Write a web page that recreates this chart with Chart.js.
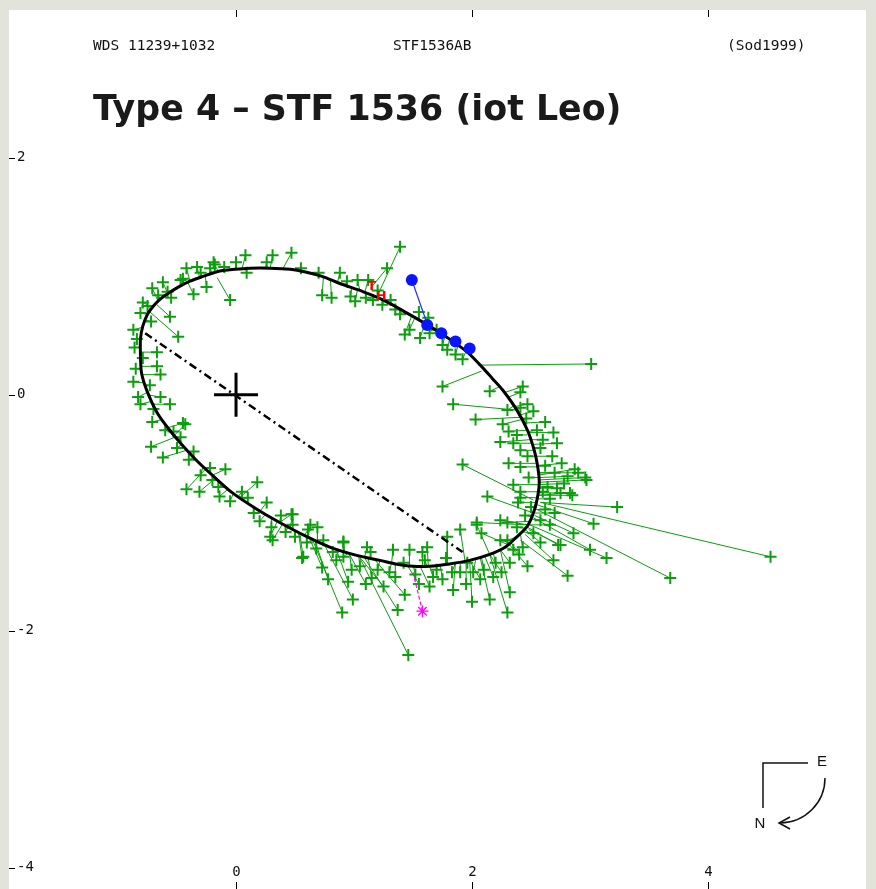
<!DOCTYPE html>
<html>
<head>
<meta charset="utf-8">
<script src="https://cdn.jsdelivr.net/npm/chart.js@4.4.1/dist/chart.umd.min.js"></script>
<style>
  html, body { margin: 0; padding: 0; background: #e2e3db; }
  #orbit { display: block; }
</style>
</head>
<body>
<canvas id="orbit" width="876" height="889"></canvas>
<script>
// axis ticks (arcsec)
const xTicks = [0, 2, 4];
const yTicks = [2, 0, -2, -4];

// apparent orbit
const orbitPath = [
  [-0.81, 0.32], [-0.81, 0.47], [-0.79, 0.58], [-0.75, 0.68], [-0.70, 0.75], [-0.64, 0.81],
  [-0.57, 0.86], [-0.49, 0.91], [-0.39, 0.96], [-0.28, 1.00], [-0.16, 1.04], [-0.01, 1.06],
  [0.12, 1.07], [0.29, 1.07], [0.46, 1.06], [0.58, 1.04], [0.73, 1.00], [0.88, 0.94],
  [1.08, 0.87], [1.25, 0.80], [1.45, 0.69], [1.64, 0.58], [1.81, 0.47], [1.96, 0.36],
  [2.07, 0.25], [2.17, 0.14], [2.26, 0.04], [2.38, -0.13], [2.47, -0.30], [2.53, -0.48],
  [2.56, -0.63], [2.57, -0.74], [2.56, -0.84], [2.53, -0.97], [2.47, -1.11], [2.37, -1.21],
  [2.28, -1.29], [2.15, -1.35], [1.98, -1.40], [1.81, -1.43], [1.64, -1.45], [1.50, -1.45],
  [1.35, -1.43], [1.22, -1.40], [1.03, -1.36], [0.80, -1.29], [0.60, -1.20], [0.37, -1.08],
  [0.18, -0.97], [-0.03, -0.83], [-0.19, -0.69], [-0.33, -0.56], [-0.46, -0.42], [-0.57, -0.29],
  [-0.67, -0.15], [-0.75, 0.02], [-0.80, 0.18], [-0.81, 0.32]
];

// line of nodes
const nodesX = [-0.77, 1.92];
const nodesY = [0.52, -1.33];

// primary star
const primary = [0, 0];

// micrometer measures: [x, y, predicted x, predicted y]
const greenMeasures = [
  [0.47, 1.20, 0.40, 1.07], [0.31, 1.18, 0.29, 1.07], [0.26, 1.12, 0.25, 1.07], [0.08, 1.18, 0.05, 1.06],
  [-0.18, 1.10, -0.15, 1.04], [-0.22, 1.07, -0.20, 1.02], [-0.19, 1.12, -0.18, 1.04], [-0.33, 1.08, -0.31, 0.99],
  [-0.42, 1.07, -0.39, 0.96], [-0.47, 0.97, -0.46, 0.93], [-0.62, 0.95, -0.58, 0.86], [-0.71, 0.90, -0.66, 0.79],
  [-0.58, 0.87, -0.56, 0.88], [-0.36, 0.85, -0.41, 0.95], [-0.25, 0.91, -0.26, 1.00], [-0.05, 0.80, -0.16, 0.99],
  [0.09, 1.03, 0.08, 1.07], [-0.79, 0.78, -0.71, 0.74], [-0.81, 0.69, -0.75, 0.68], [-0.56, 0.66, -0.67, 0.76],
  [-0.49, 0.49, -0.73, 0.70], [-0.87, 0.55, -0.79, 0.57], [-0.84, 0.47, -0.81, 0.47], [-0.67, 0.36, -0.81, 0.36],
  [-0.79, 0.31, -0.81, 0.31], [-0.67, 0.24, -0.81, 0.24], [-0.87, 0.11, -0.79, 0.10], [-0.64, 0.17, -0.80, 0.17],
  [-0.73, 0.08, -0.78, 0.07], [-0.81, -0.08, -0.73, -0.06], [-0.64, -0.02, -0.75, 0.00], [-0.56, -0.08, -0.71, -0.08],
  [-0.71, -0.23, -0.63, -0.21], [-0.45, -0.24, -0.58, -0.28], [-0.53, -0.31, -0.56, -0.32], [-0.43, -0.25, -0.53, -0.35],
  [-0.47, -0.36, -0.49, -0.39], [-0.36, -0.48, -0.41, -0.49], [-0.72, -0.44, -0.52, -0.36], [-0.62, -0.53, -0.42, -0.47],
  [-0.42, -0.80, -0.26, -0.63], [-0.31, -0.82, -0.18, -0.71], [-0.22, -0.62, -0.26, -0.63], [-0.09, -0.63, -0.20, -0.68],
  [-0.14, -0.86, -0.07, -0.80], [-0.15, -0.78, -0.12, -0.76], [0.18, -0.74, 0.03, -0.87], [0.10, -0.87, 0.05, -0.89],
  [0.26, -0.91, 0.20, -0.99], [0.20, -1.07, 0.25, -1.01], [0.29, -1.20, 0.35, -1.07], [0.31, -1.23, 0.39, -1.10],
  [0.48, -1.01, 0.46, -1.12], [0.61, -1.14, 0.58, -1.19], [0.60, -1.25, 0.64, -1.23], [0.74, -1.23, 0.73, -1.26],
  [0.82, -1.33, 0.82, -1.29], [0.91, -1.24, 0.92, -1.32], [0.57, -1.37, 0.54, -1.18], [1.11, -1.29, 1.09, -1.37],
  [1.33, -1.31, 1.32, -1.41], [1.47, -1.31, 1.47, -1.44], [1.62, -1.29, 1.63, -1.45], [1.79, -1.20, 1.79, -1.43],
  [2.04, -1.10, 2.15, -1.35], [0.47, -1.01, 0.37, -1.08], [0.48, -1.10, 0.42, -1.11], [0.42, -1.16, 0.44, -1.12],
  [0.63, -1.10, 0.61, -1.21], [0.69, -1.12, 0.69, -1.24], [0.56, -1.38, 0.53, -1.17], [0.73, -1.46, 0.63, -1.23],
  [0.78, -1.56, 0.67, -1.24], [0.90, -1.84, 0.65, -1.23], [0.99, -1.73, 0.75, -1.27], [0.91, -1.25, 0.91, -1.32],
  [0.91, -1.37, 0.95, -1.34], [1.14, -1.33, 1.14, -1.38], [1.25, -1.62, 1.03, -1.35], [1.37, -1.82, 1.09, -1.38],
  [1.46, -2.20, 1.05, -1.38], [1.43, -1.69, 1.18, -1.40], [1.58, -1.33, 1.58, -1.45], [1.35, -1.54, 1.35, -1.42],
  [1.67, -1.54, 1.64, -1.45], [1.75, -1.56, 1.73, -1.44], [1.84, -1.65, 1.86, -1.42], [1.64, -1.62, 1.56, -1.45],
  [2.00, -1.75, 1.98, -1.40], [2.15, -1.73, 2.07, -1.38], [2.30, -1.84, 2.15, -1.35], [2.32, -1.67, 2.24, -1.31],
  [2.07, -1.56, 1.98, -1.40], [2.18, -1.54, 2.11, -1.37], [1.90, -1.14, 1.94, -1.40], [2.24, -1.06, 2.47, -1.10],
  [2.35, -0.76, 2.57, -0.76], [2.41, -0.87, 2.56, -0.87], [2.24, -1.23, 2.32, -1.25], [2.35, -1.31, 2.28, -1.29],
  [2.32, -1.42, 2.24, -1.31], [1.96, -1.42, 1.97, -1.40], [2.01, -1.50, 2.03, -1.40], [1.83, -1.50, 1.86, -1.42],
  [3.01, 0.26, 2.05, 0.25], [1.75, 0.07, 2.08, 0.20], [2.15, 0.03, 2.24, 0.07], [2.43, 0.07, 2.28, 0.02],
  [2.41, 0.02, 2.31, -0.02], [1.84, -0.08, 2.38, -0.13], [2.30, -0.13, 2.36, -0.09], [2.41, -0.11, 2.38, -0.13],
  [2.47, -0.08, 2.36, -0.10], [2.03, -0.21, 2.42, -0.19], [2.52, -0.14, 2.41, -0.17], [2.62, -0.23, 2.44, -0.24],
  [2.26, -0.25, 2.42, -0.21], [2.31, -0.31, 2.47, -0.30], [2.69, -0.32, 2.47, -0.32], [2.38, -0.34, 2.47, -0.34],
  [2.24, -0.40, 2.49, -0.38], [2.35, -0.41, 2.50, -0.41], [2.60, -0.38, 2.50, -0.38], [2.72, -0.41, 2.51, -0.42],
  [2.41, -0.47, 2.53, -0.47], [2.68, -0.52, 2.53, -0.52], [2.31, -0.58, 2.54, -0.58], [2.41, -0.61, 2.55, -0.61],
  [1.92, -0.59, 2.52, -0.89], [2.87, -0.63, 2.56, -0.68], [2.81, -0.69, 2.57, -0.70], [2.96, -0.70, 2.57, -0.72],
  [2.64, -0.78, 2.57, -0.78], [2.72, -0.79, 2.57, -0.79], [2.41, -0.82, 2.57, -0.82], [2.13, -0.86, 2.52, -1.00],
  [2.75, -0.83, 2.56, -0.83], [2.85, -0.85, 2.56, -0.85], [2.39, -0.91, 2.55, -0.91], [3.23, -0.95, 2.58, -0.91],
  [2.04, -1.08, 2.47, -1.10], [2.30, -1.08, 2.49, -1.07], [2.30, -1.23, 2.36, -1.21], [2.43, -1.29, 2.41, -1.18],
  [2.58, -1.25, 2.45, -1.14], [2.73, -1.27, 2.47, -1.12], [2.86, -1.17, 2.53, -1.02], [3.00, -1.31, 2.52, -1.04],
  [2.08, -1.17, 2.31, -1.27], [2.97, -0.72, 2.57, -0.74], [2.83, -0.83, 2.56, -0.85], [3.03, -1.09, 2.55, -0.93],
  [4.53, -1.37, 2.58, -0.91], [3.68, -1.55, 2.55, -0.97], [3.14, -1.38, 2.49, -1.10], [2.75, -1.27, 2.48, -1.14],
  [2.69, -1.40, 2.45, -1.18], [2.81, -1.53, 2.41, -1.23], [2.47, -1.45, 2.32, -1.27], [1.39, 1.25, 1.20, 0.84],
  [1.28, 1.07, 1.14, 0.90], [1.03, 0.97, 1.05, 0.88], [1.12, 0.97, 1.09, 0.86], [0.97, 0.83, 0.98, 0.90],
  [1.01, 0.79, 1.03, 0.89], [1.16, 0.80, 1.18, 0.83], [1.24, 0.76, 1.26, 0.79], [1.31, 0.80, 1.31, 0.77],
  [1.39, 0.68, 1.42, 0.71], [1.47, 0.55, 1.52, 0.66], [1.43, 0.51, 1.49, 0.67], [1.56, 0.48, 1.60, 0.60],
  [1.63, 0.65, 1.63, 0.58], [1.64, 0.52, 1.67, 0.56], [1.75, 0.42, 1.77, 0.49], [1.86, 0.34, 1.88, 0.41],
  [1.79, 0.38, 1.81, 0.47], [0.88, 1.03, 0.86, 0.95], [0.94, 0.96, 0.92, 0.92], [0.55, 1.07, 0.54, 1.05],
  [0.70, 1.03, 0.69, 1.01], [0.81, 0.82, 0.80, 0.97], [0.73, 0.84, 0.74, 0.99],
  [2.46, -0.20, 2.43, -0.22], [2.55, -0.30, 2.48, -0.31], [2.58, -0.45, 2.52, -0.45], [2.47, -0.52, 2.53, -0.52],
  [2.62, -0.60, 2.55, -0.60], [2.70, -0.66, 2.56, -0.66], [2.48, -0.70, 2.57, -0.70], [2.78, -0.75, 2.57, -0.76],
  [2.66, -0.88, 2.56, -0.88], [2.50, -0.95, 2.54, -0.95], [2.62, -0.97, 2.53, -0.97], [2.70, -1.00, 2.52, -1.00],
  [2.45, -1.02, 2.51, -1.03], [2.58, -1.06, 2.50, -1.05], [2.66, -1.10, 2.48, -1.10], [2.38, -1.12, 2.46, -1.13],
  [2.52, -1.17, 2.43, -1.16], [2.60, -0.82, 2.56, -0.82], [2.90, -0.66, 2.56, -0.66], [2.76, -0.58, 2.55, -0.60],
  [1.20, -1.48, 1.22, -1.40], [1.30, -1.50, 1.32, -1.41], [1.52, -1.52, 1.50, -1.44], [1.60, -1.40, 1.62, -1.45],
  [1.70, -1.48, 1.70, -1.44], [1.90, -1.50, 1.90, -1.42], [1.95, -1.60, 1.95, -1.41], [2.10, -1.48, 2.08, -1.37],
  [2.20, -1.42, 2.18, -1.34], [1.05, -1.45, 1.04, -1.36], [0.98, -1.48, 0.96, -1.33], [0.85, -1.40, 0.86, -1.31],
  [1.15, -1.55, 1.12, -1.38], [1.42, -1.42, 1.42, -1.43], [1.78, -1.38, 1.78, -1.43], [2.25, -1.50, 2.15, -1.35],
  [2.40, -1.35, 2.33, -1.25], [1.55, -1.60, 1.45, -1.44], [0.95, -1.58, 0.85, -1.31], [1.10, -1.60, 0.95, -1.33],
  [-0.60, -0.30, -0.57, -0.29], [-0.50, -0.45, -0.46, -0.42], [-0.40, -0.55, -0.36, -0.53], [-0.30, -0.68, -0.28, -0.61],
  [-0.20, -0.72, -0.19, -0.69], [-0.05, -0.90, -0.02, -0.83], [0.05, -0.82, 0.02, -0.86], [0.15, -1.00, 0.15, -0.95],
  [0.30, -1.12, 0.30, -1.05], [0.38, -1.02, 0.37, -1.08], [0.50, -1.20, 0.50, -1.15], [0.68, -1.30, 0.68, -1.24],
  [-0.75, 0.75, -0.72, 0.72], [-0.66, 0.84, -0.64, 0.81], [-0.55, 0.82, -0.55, 0.87], [-0.45, 0.98, -0.44, 0.94],
  [-0.30, 1.03, -0.29, 1.00], [-0.10, 1.08, -0.10, 1.05], [0.00, 1.12, 0.00, 1.06], [-0.72, 0.62, -0.77, 0.63],
  [-0.86, 0.40, -0.81, 0.40], [-0.85, 0.22, -0.80, 0.22], [-0.83, -0.02, -0.75, 0.02], [-0.70, -0.12, -0.68, -0.14],
  [1.10, 0.82, 1.10, 0.86], [1.20, 0.88, 1.20, 0.82], [1.35, 0.72, 1.36, 0.74], [1.55, 0.70, 1.55, 0.63],
  [1.70, 0.55, 1.70, 0.55], [1.92, 0.30, 1.95, 0.37]
];

// interferometric measures: [x, y, predicted x, predicted y]
const blueMeasures = [
  [1.49, 0.97, 1.62, 0.60], [1.62, 0.59, 1.63, 0.58], [1.74, 0.52, 1.75, 0.51],
  [1.86, 0.45, 1.87, 0.44], [1.98, 0.39, 1.98, 0.37]
];

// Hipparcos measure
const magentaMeasures = [[1.58, -1.83, 1.50, -1.50]];

// red flags near the orbit
const redMarks = [[1.15, 0.91, "T"], [1.23, 0.83, "H"]];

const GREEN = "#0c9e0c";

function residualLines(rows) {
  const pts = [];
  rows.forEach((r) => {
    pts.push({ x: r[0], y: r[1] }, { x: r[2], y: r[3] }, { x: null, y: null });
  });
  return pts;
}

function markers(rows) {
  return rows.map((r) => ({ x: r[0], y: r[1] }));
}

const framePlugin = {
  id: "frame",
  beforeDraw(chart) {
    const { ctx, chartArea: a } = chart;
    ctx.save();
    ctx.fillStyle = "#e2e3db";
    ctx.fillRect(0, 0, chart.width, chart.height);
    ctx.fillStyle = "#ffffff";
    ctx.fillRect(a.left, a.top, a.right - a.left, a.bottom - a.top);
    ctx.restore();
  },
  afterDatasetsDraw(chart) {
    const { ctx, scales } = chart;
    ctx.save();
    ctx.fillStyle = "#ff0000";
    ctx.font = 'bold 13px "DejaVu Sans"';
    ctx.textAlign = "center";
    ctx.textBaseline = "middle";
    redMarks.forEach((m) => {
      ctx.fillText(m[2], scales.x.getPixelForValue(m[0]), scales.y.getPixelForValue(m[1]));
    });
    ctx.restore();
  },
  afterDraw(chart) {
    const { ctx, chartArea: a, scales } = chart;
    ctx.save();
    ctx.strokeStyle = "#000";
    ctx.fillStyle = "#111";
    ctx.lineWidth = 1;

    // ticks and labels
    ctx.font = '14px "DejaVu Sans Mono"';
    xTicks.forEach((v) => {
      const px = Math.round(scales.x.getPixelForValue(v)) + 0.5;
      ctx.beginPath();
      ctx.moveTo(px, a.top);
      ctx.lineTo(px, a.top + 7);
      ctx.moveTo(px, a.bottom - 7);
      ctx.lineTo(px, a.bottom);
      ctx.stroke();
      ctx.textAlign = "center";
      ctx.textBaseline = "alphabetic";
      ctx.fillText(String(v), px, a.bottom - 13);
    });
    yTicks.forEach((v) => {
      const py = Math.round(scales.y.getPixelForValue(v)) + 0.5;
      ctx.beginPath();
      ctx.moveTo(a.left, py);
      ctx.lineTo(a.left + 6, py);
      ctx.stroke();
      ctx.textAlign = "left";
      ctx.textBaseline = "middle";
      ctx.fillText(String(v), a.left + 8, py - 1);
    });

    // header line
    ctx.font = '14.5px "DejaVu Sans Mono"';
    ctx.textBaseline = "alphabetic";
    ctx.textAlign = "left";
    ctx.fillText("WDS 11239+1032", 93, 50);
    ctx.fillText("STF1536AB", 393, 50);
    ctx.fillText("(Sod1999)", 727, 50);

    // title, sized to span the same width as the original
    const title = "Type 4 \u2013 STF 1536 (iot Leo)";
    ctx.font = 'bold 30px "DejaVu Sans"';
    const w = ctx.measureText(title).width;
    const size = 30 * 529 / w;
    ctx.font = `bold ${size.toFixed(1)}px "DejaVu Sans"`;
    ctx.fillStyle = "#1a1a1a";
    ctx.fillText(title, 93, 120);

    // orientation marker
    ctx.lineWidth = 1.5;
    ctx.strokeStyle = "#111";
    ctx.beginPath();
    ctx.moveTo(763, 808);
    ctx.lineTo(763, 763);
    ctx.lineTo(808, 763);
    ctx.stroke();
    ctx.beginPath();
    ctx.ellipse(780, 778, 45, 45, 0, 0, Math.PI / 2);
    ctx.stroke();
    ctx.beginPath();
    ctx.moveTo(790, 817);
    ctx.lineTo(779, 823);
    ctx.lineTo(790, 829);
    ctx.stroke();
    ctx.font = '15px "Liberation Sans"';
    ctx.fillStyle = "#111";
    ctx.textAlign = "center";
    ctx.textBaseline = "middle";
    ctx.fillText("E", 822, 762);
    ctx.fillText("N", 760, 824);
    ctx.restore();
  },
};

const ctx = document.getElementById("orbit").getContext("2d");

new Chart(ctx, {
  type: "scatter",
  data: {
    datasets: [
      {
        label: "interferometric",
        data: markers(blueMeasures),
        pointStyle: "circle",
        pointRadius: 6,
        backgroundColor: "#0a14ff",
        borderColor: "#0a14ff",
        borderWidth: 0,
      },
      {
        label: "interferometric O-C",
        data: residualLines(blueMeasures),
        showLine: true,
        spanGaps: false,
        pointRadius: 0,
        borderColor: "#2030ff",
        borderWidth: 1.2,
      },
      {
        label: "Hipparcos",
        data: markers(magentaMeasures),
        pointStyle: "star",
        pointRadius: 6,
        borderColor: "#ff00ff",
        borderWidth: 1.3,
      },
      {
        label: "Hipparcos O-C",
        data: residualLines(magentaMeasures),
        showLine: true,
        spanGaps: false,
        pointRadius: 0,
        borderColor: "#ff00ff",
        borderWidth: 1.2,
        borderDash: [4, 2],
      },
      {
        label: "primary",
        data: [{ x: primary[0], y: primary[1] }],
        pointStyle: "cross",
        pointRadius: 22,
        borderColor: "#000",
        borderWidth: 3,
      },
      {
        label: "line of nodes",
        data: nodesX.map((x, i) => ({ x, y: nodesY[i] })),
        showLine: true,
        pointRadius: 0,
        borderColor: "#000",
        borderWidth: 2.5,
        borderDash: [8, 4, 2, 4],
      },
      {
        label: "orbit",
        data: orbitPath.map((p) => ({ x: p[0], y: p[1] })),
        showLine: true,
        tension: 0.3,
        pointRadius: 0,
        borderColor: "#000",
        borderWidth: 3,
      },
      {
        label: "micrometer",
        data: markers(greenMeasures),
        pointStyle: "cross",
        pointRadius: 6,
        borderColor: GREEN,
        borderWidth: 2,
      },
      {
        label: "micrometer O-C",
        data: residualLines(greenMeasures),
        showLine: true,
        spanGaps: false,
        pointRadius: 0,
        borderColor: GREEN,
        borderWidth: 1,
      },
    ],
  },
  options: {
    responsive: false,
    animation: false,
    layout: { autoPadding: false, padding: { left: 9, top: 10, right: 10, bottom: 0 } },
    plugins: {
      legend: { display: false },
      tooltip: { enabled: false },
    },
    scales: {
      x: { type: "linear", display: false, min: -1.924, max: 5.339 },
      y: { type: "linear", display: false, min: -4.178, max: 3.252 },
    },
  },
  plugins: [framePlugin],
});
</script>
</body>
</html>
